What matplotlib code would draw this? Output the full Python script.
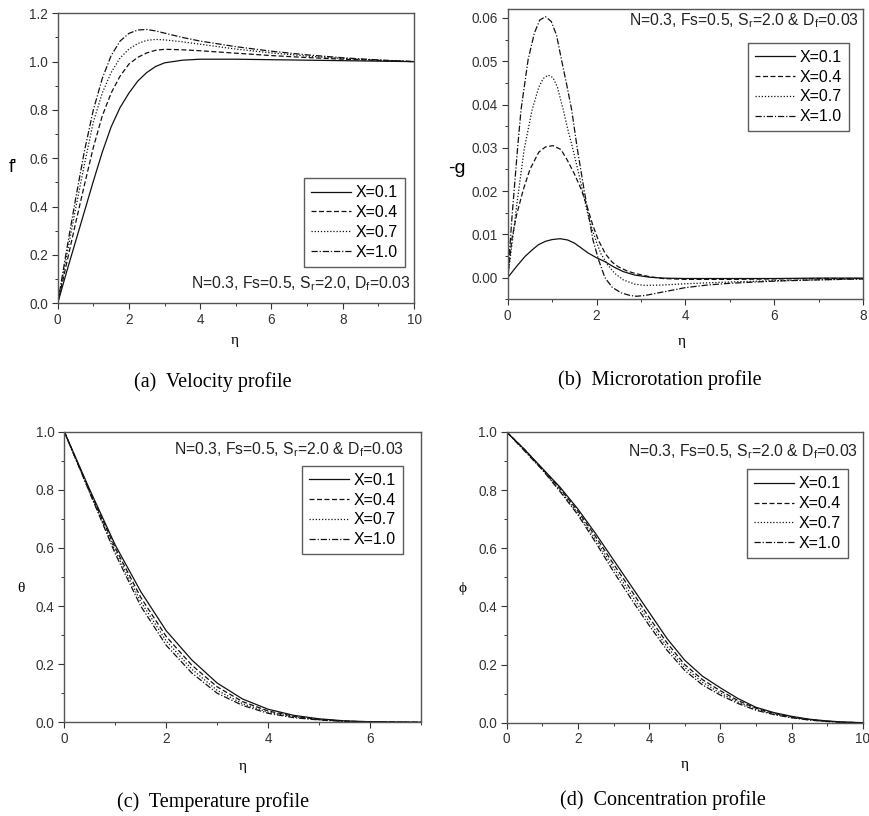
import numpy as np
import matplotlib
matplotlib.use("Agg")
import matplotlib.pyplot as plt
from matplotlib.ticker import MultipleLocator, FormatStrFormatter

plt.rcParams['font.family'] = ['Liberation Sans', 'DejaVu Sans']
plt.rcParams['mathtext.fontset'] = 'custom'
plt.rcParams['mathtext.rm'] = 'Liberation Sans'
plt.rcParams['mathtext.it'] = 'Liberation Sans:italic'

labels = ['X=0.1', 'X=0.4', 'X=0.7', 'X=1.0']
note_a = 'N=0.3, Fs=0.5, S$_{\\mathrm{r}}$=2.0, D$_{\\mathrm{f}}$=0.03'
note = 'N=0.3, Fs=0.5, S$_{\\mathrm{r}}$=2.0 & D$_{\\mathrm{f}}$=0.03'

# (a) velocity f'
eta_a = [0, 0.25, 0.5, 0.75, 1.0, 1.25, 1.5, 1.75, 2.0, 2.25, 2.5, 2.75, 3.0,
         3.5, 4, 5, 6, 7, 8, 9, 10]
fp_01 = [0, 0.13, 0.255, 0.38, 0.505, 0.625, 0.73, 0.81, 0.87, 0.92, 0.955,
         0.98, 0.995, 1.006, 1.01, 1.01, 1.008, 1.006, 1.004, 1.002, 1.0]
fp_04 = [0, 0.165, 0.33, 0.49, 0.645, 0.775, 0.87, 0.94, 0.99, 1.018, 1.036,
         1.047, 1.051, 1.049, 1.045, 1.035, 1.025, 1.017, 1.01, 1.005, 1.0]
fp_07 = [0, 0.195, 0.39, 0.575, 0.75, 0.87, 0.955, 1.015, 1.052, 1.075, 1.088,
         1.092, 1.09, 1.082, 1.072, 1.052, 1.036, 1.023, 1.013, 1.006, 1.0]
fp_10 = [0, 0.22, 0.43, 0.63, 0.80, 0.93, 1.025, 1.085, 1.117, 1.131, 1.133,
         1.127, 1.118, 1.10, 1.085, 1.062, 1.043, 1.028, 1.016, 1.007, 1.0]

# (b) microrotation -g
eta_b01 = [0, 0.2, 0.39, 0.55, 0.69, 0.85, 1.0, 1.18, 1.35, 1.5, 1.65, 1.81,
           2.0, 2.19, 2.4, 2.6, 2.86, 3.2, 3.5, 4, 5, 6, 7, 8]
g_01 = [0, 0.0026, 0.0049, 0.0064, 0.0076, 0.0084, 0.0088, 0.0090, 0.0087,
        0.0080, 0.0069, 0.0057, 0.0046, 0.0037, 0.0024, 0.0014, 0.0006,
        0.0001, -0.0001, -0.0002, -0.0002, -0.0002, -0.0001, -0.0001]
eta_b04 = [0, 0.09, 0.2, 0.35, 0.5, 0.7, 0.85, 1.02, 1.2, 1.35, 1.5, 1.66, 1.8,
           1.92, 2.04, 2.2, 2.35, 2.49, 2.7, 2.86, 3.2, 3.5, 4, 5, 6, 7, 8]
g_04 = [0, 0.0087, 0.0145, 0.0203, 0.025, 0.029, 0.0302, 0.0305, 0.0296,
        0.0270, 0.0240, 0.0203, 0.0160, 0.0120, 0.0087, 0.0055, 0.0036,
        0.0025, 0.0015, 0.0010, 0.0002, -0.0002, -0.0004, -0.0004, -0.0003,
        -0.0002, -0.0002]
eta_b07 = [0, 0.1, 0.2, 0.37, 0.55, 0.7, 0.8, 0.91, 1.02, 1.12, 1.25, 1.36,
           1.47, 1.6, 1.7, 1.8, 1.9, 2.0, 2.1, 2.25, 2.41, 2.6, 2.86, 3.1, 3.5,
           4, 4.5, 5, 6, 7, 8]
g_07 = [0, 0.008, 0.0165, 0.0296, 0.0388, 0.0440, 0.0460, 0.0468, 0.0462,
        0.0440, 0.0388, 0.0340, 0.0296, 0.024, 0.0195, 0.0148, 0.0112,
        0.0082, 0.0055, 0.0030, 0.0010, -0.0005, -0.0015, -0.0018, -0.0017,
        -0.0014, -0.0012, -0.0010, -0.0007, -0.0005, -0.0003]
eta_b10 = [0, 0.1, 0.22, 0.3, 0.46, 0.6, 0.72, 0.85, 0.98, 1.1, 1.21, 1.33,
           1.44, 1.57, 1.72, 1.82, 1.92, 2.05, 2.19, 2.35, 2.55, 2.75, 2.9,
           3.1, 3.5, 4, 4.5, 5, 6, 7, 8]
g_10 = [0, 0.0145, 0.0296, 0.0388, 0.0504, 0.0565, 0.0595, 0.0603, 0.0592,
        0.0560, 0.0504, 0.0445, 0.0388, 0.0296, 0.0203, 0.0145, 0.0087,
        0.0040, 0.0, -0.0022, -0.0035, -0.0041, -0.0043, -0.0041, -0.0033,
        -0.0023, -0.0017, -0.0013, -0.0008, -0.0005, -0.0003]

# (c) temperature theta
eta_c = [0, 0.5, 1.0, 1.5, 2.0, 2.5, 3.0, 3.5, 4.0, 4.5, 5.0, 5.5, 6.0, 6.5, 7.0]
th_01 = [1, 0.80, 0.61, 0.45, 0.315, 0.215, 0.135, 0.08, 0.045, 0.024, 0.012,
         0.005, 0.002, 0.001, 0.0]
th_04 = [1, 0.795, 0.60, 0.43, 0.295, 0.197, 0.122, 0.071, 0.039, 0.021, 0.010,
         0.004, 0.0015, 0.0005, 0.0]
th_07 = [1, 0.79, 0.59, 0.415, 0.28, 0.183, 0.11, 0.064, 0.035, 0.018, 0.009,
         0.0035, 0.0012, 0.0004, 0.0]
th_10 = [1, 0.79, 0.58, 0.40, 0.265, 0.17, 0.10, 0.058, 0.031, 0.016, 0.008,
         0.003, 0.001, 0.0003, 0.0]

# (d) concentration phi
eta_d = [0, 0.5, 1, 1.5, 2, 2.5, 3, 3.5, 4, 4.5, 5, 5.5, 6, 6.5, 7, 7.5, 8,
         8.5, 9, 9.5, 10]
ph_01 = [1, 0.94, 0.875, 0.81, 0.735, 0.65, 0.56, 0.47, 0.38, 0.29, 0.215,
         0.16, 0.12, 0.083, 0.053, 0.035, 0.022, 0.012, 0.006, 0.002, 0.0]
ph_04 = [1, 0.94, 0.873, 0.805, 0.728, 0.64, 0.546, 0.455, 0.362, 0.275, 0.2,
         0.148, 0.11, 0.076, 0.05, 0.032, 0.02, 0.011, 0.005, 0.0015, 0.0]
ph_07 = [1, 0.937, 0.871, 0.80, 0.72, 0.63, 0.533, 0.44, 0.348, 0.262, 0.19,
         0.139, 0.102, 0.071, 0.046, 0.03, 0.018, 0.01, 0.0045, 0.0012, 0.0]
ph_10 = [1, 0.935, 0.87, 0.795, 0.715, 0.62, 0.52, 0.425, 0.335, 0.25, 0.18,
         0.13, 0.095, 0.066, 0.043, 0.028, 0.017, 0.009, 0.004, 0.001, 0.0]

dashes = [None, (4, 2), (1, 1.5), (5, 1.5, 1, 1.5)]

W, H = 869, 816
fig = plt.figure(figsize=(W / 100, H / 100), dpi=100, facecolor='white')


def make_axes(l, r, t, b):
    return fig.add_axes([l / W, 1 - b / H, (r - l) / W, (b - t) / H])


def style(ax, xmax, xmaj, ymin, ymax, ymaj, yfmt):
    ax.set_xlim(0, xmax)
    ax.set_ylim(ymin, ymax)
    ax.xaxis.set_major_locator(MultipleLocator(xmaj))
    ax.xaxis.set_minor_locator(MultipleLocator(xmaj / 2))
    ax.yaxis.set_major_locator(MultipleLocator(ymaj))
    ax.yaxis.set_minor_locator(MultipleLocator(ymaj / 2))
    ax.yaxis.set_major_formatter(FormatStrFormatter(yfmt))
    ax.tick_params(which='major', direction='out', length=4, width=0.8,
                   labelsize=9.8, colors='#333333', pad=3)
    ax.tick_params(which='minor', direction='out', length=2.5, width=0.7,
                   colors='#333333')
    for s in ax.spines.values():
        s.set_color('#555555')
        s.set_linewidth(1.0)


def draw(ax, xs, ys):
    for x, y, lab, d in zip(xs, ys, labels, dashes):
        line, = ax.plot(x, y, color='#111111', lw=0.9, label=lab)
        if d is not None:
            line.set_dashes(d)


def legend(ax, loc, anchor):
    leg = ax.legend(loc=loc, bbox_to_anchor=anchor, fontsize=11.5,
                    frameon=True, fancybox=False, handlelength=2.5,
                    handletextpad=0.3, labelspacing=0.3, borderpad=0.45,
                    borderaxespad=0)
    leg.get_frame().set_edgecolor('#333333')
    leg.get_frame().set_linewidth(1.0)


def labels_xy(ax, ylab, ypos, xpos, yfont):
    ax.set_xlabel('η', family='Liberation Serif', fontsize=11)
    ax.xaxis.set_label_coords(*xpos)
    ax.xaxis.label.set_va('center')
    ax.set_ylabel(ylab, rotation=0, va='center', ha='center', **yfont)
    ax.yaxis.set_label_coords(*ypos)


def caption(x, y, s):
    fig.text(x / W, 1 - y / H, s, ha='center', va='center',
             family='Liberation Serif', fontsize=14.5)


# panel (a)
ax = make_axes(57.7, 414, 13.3, 303.3)
draw(ax, [eta_a] * 4, [fp_01, fp_04, fp_07, fp_10])
style(ax, 10, 2, 0, 1.2, 0.2, '%.1f')
legend(ax, 'lower right', (0.975, 0.126))
ax.text(0.99, 0.035, note_a, transform=ax.transAxes, ha='right',
        va='bottom', fontsize=11.3, color='#222222')
labels_xy(ax, "f'", (-0.125, 0.467), (0.498, -0.127), dict(fontsize=13))
caption(213, 382, '(a)  Velocity profile')

# panel (b)
ax = make_axes(507.7, 863, 9.3, 299.3)
draw(ax, [eta_b01, eta_b04, eta_b07, eta_b10], [g_01, g_04, g_07, g_10])
style(ax, 8, 2, -0.005, 0.062, 0.01, '%.2f')
legend(ax, 'upper right', (0.961, 0.885))
ax.text(0.99, 0.993, note, transform=ax.transAxes, ha='right', va='top',
        fontsize=11.3, color='#222222')
labels_xy(ax, '-g', (-0.1435, 0.452), (0.491, -0.146), dict(fontsize=14))
caption(660, 380, '(b)  Microrotation profile')

# panel (c)
ax = make_axes(64.3, 421, 431.7, 722.3)
draw(ax, [eta_c] * 4, [th_01, th_04, th_07, th_10])
style(ax, 7, 2, 0, 1.0, 0.2, '%.1f')
legend(ax, 'upper right', (0.95, 0.883))
ax.text(0.953, 0.97, note, transform=ax.transAxes, ha='right', va='top',
        fontsize=11.3, color='#222222')
labels_xy(ax, 'θ', (-0.122, 0.461), (0.499, -0.153),
          dict(family='Liberation Serif', fontsize=11))
caption(213, 802, '(c)  Temperature profile')

# panel (d)
ax = make_axes(506.7, 862.7, 432, 722.7)
draw(ax, [eta_d] * 4, [ph_01, ph_04, ph_07, ph_10])
style(ax, 10, 2, 0, 1.0, 0.2, '%.1f')
legend(ax, 'upper right', (0.96, 0.872))
ax.text(0.988, 0.966, note, transform=ax.transAxes, ha='right', va='top',
        fontsize=11.3, color='#222222')
labels_xy(ax, 'ϕ', (-0.124, 0.462), (0.5, -0.1455),
          dict(family='Liberation Serif', fontsize=11))
caption(663, 800, '(d)  Concentration profile')

fig.savefig('out.png', dpi=100, facecolor='white')
